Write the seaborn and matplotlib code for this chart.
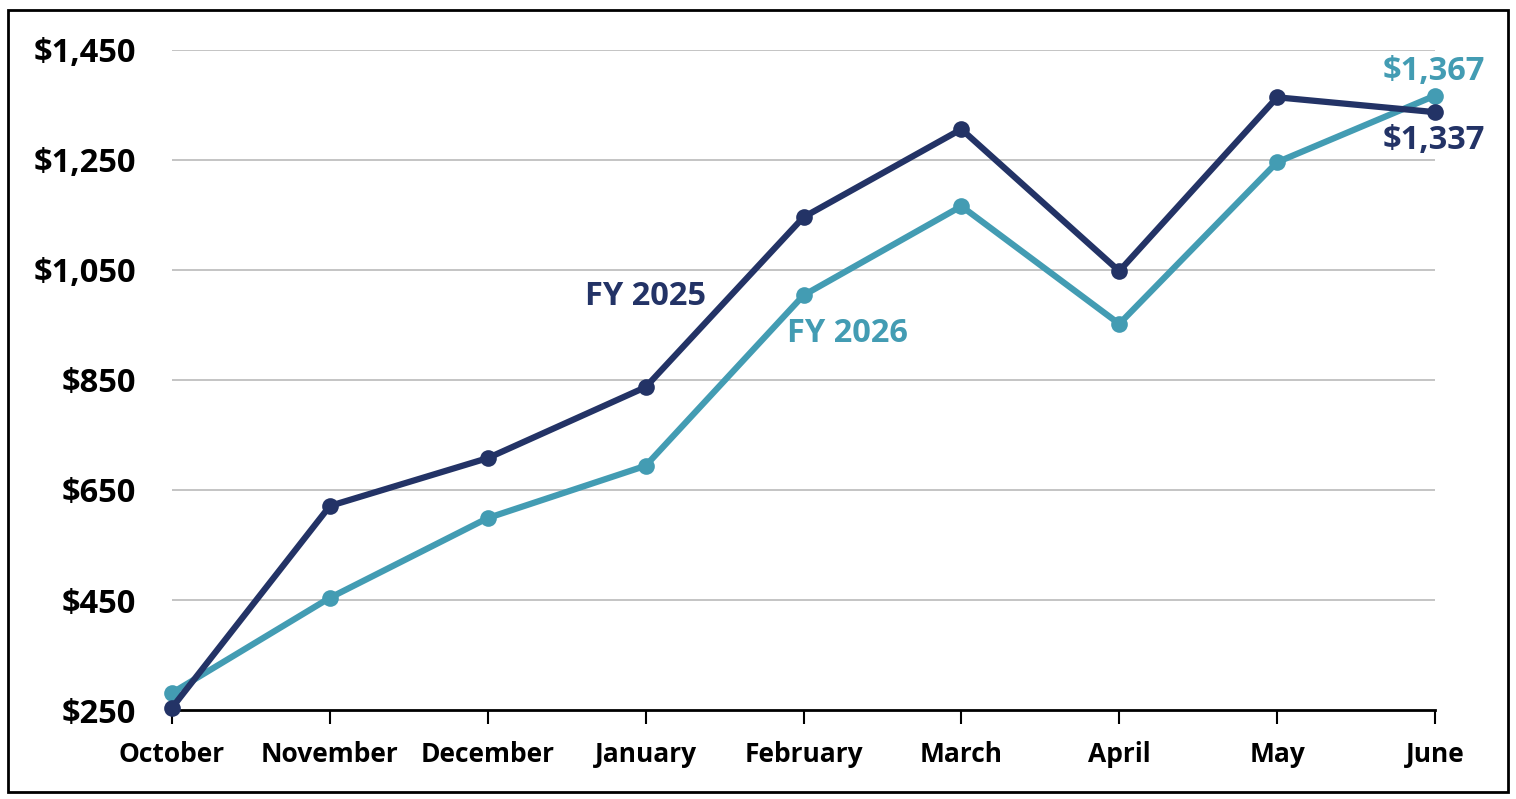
import matplotlib
matplotlib.use("Agg")
import matplotlib.pyplot as plt
import seaborn as sns
import pandas as pd
from matplotlib.patches import Rectangle

months = ["October", "November", "December", "January", "February",
          "March", "April", "May", "June"]
fy2025 = [254, 621, 708, 837, 1146, 1306, 1048, 1364, 1337]
fy2026 = [281, 454, 599, 694, 1004, 1166, 952, 1246, 1367]
yticks = [250, 450, 650, 850, 1050, 1250, 1450]

NAVY = "#233366"
TEAL = "#439CB3"

sns.set_theme(style="white")
plt.rcParams["font.family"] = ["Open Sans", "DejaVu Sans"]
plt.rcParams["font.weight"] = "bold"

df = pd.DataFrame({
    "x": list(range(len(months))) * 2,
    "value": fy2025 + fy2026,
    "series": ["FY 2025"] * len(months) + ["FY 2026"] * len(months),
})

fig = plt.figure(figsize=(15.16, 7.99), dpi=100)
ax = fig.add_axes([172 / 1516, 1 - 710 / 799, (1435 - 172) / 1516, (710 - 50) / 799])

sns.lineplot(data=df, x="x", y="value", hue="series", hue_order=["FY 2026", "FY 2025"],
             palette={"FY 2025": NAVY, "FY 2026": TEAL}, marker="o", markersize=12,
             markeredgewidth=0, linewidth=4.5, legend=False, ax=ax, zorder=3)
for ln in ax.get_lines():
    ln.set_clip_on(False)

ax.set_xlim(0, len(months) - 1)
ax.set_ylim(yticks[0], yticks[-1])
ax.set_yticks(yticks)
ax.set_yticklabels([f"${v:,}" for v in yticks], fontsize=23.5, fontweight="bold", color="black")
ax.set_xticks(range(len(months)))
ax.set_xticklabels(months, fontsize=19, fontweight="bold", color="black")
ax.set_xlabel("")
ax.set_ylabel("")

for y in yticks[1:]:
    ax.axhline(y, color="#BFBFBF", linewidth=1.3, zorder=1)

for s in ["top", "right", "left"]:
    ax.spines[s].set_visible(False)
ax.spines["bottom"].set_color("black")
ax.spines["bottom"].set_linewidth(2)
ax.spines["bottom"].set_zorder(2)
ax.tick_params(axis="x", which="major", bottom=True, direction="out", length=10, width=1.5,
               color="black", pad=12)
ax.tick_params(axis="y", left=False, pad=20)

ax.text(3, 1001, "FY 2025", color=NAVY, fontsize=23.5, fontweight="bold", ha="center", va="center")
ax.text(4.28, 935, "FY 2026", color=TEAL, fontsize=23.5, fontweight="bold", ha="center", va="center")
ax.text(7.99, 1410, f"${fy2026[-1]:,}", color=TEAL, fontsize=23.5, fontweight="bold",
        ha="center", va="center")
ax.text(7.99, 1286, f"${fy2025[-1]:,}", color=NAVY, fontsize=23.5, fontweight="bold",
        ha="center", va="center")

fig.patches.append(Rectangle((8 / 1516, 1 - 792 / 799), 1500 / 1516, 782 / 799,
                             transform=fig.transFigure, fill=False, edgecolor="black",
                             linewidth=2))

fig.savefig("out.png", dpi=100)
